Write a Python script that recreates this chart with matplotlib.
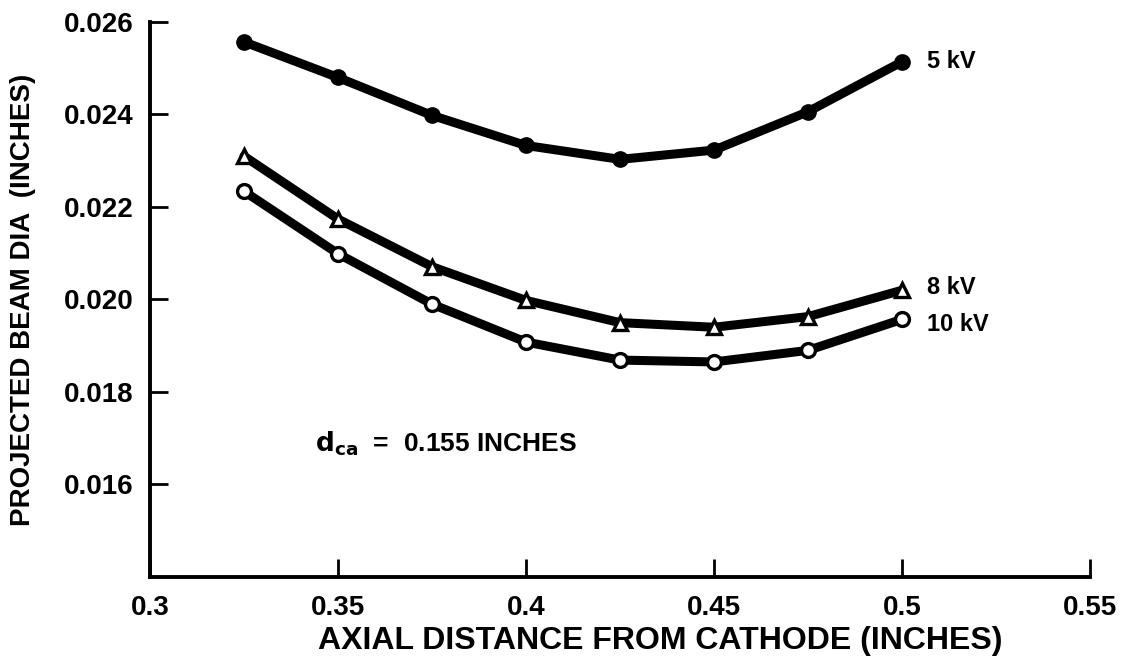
import matplotlib
matplotlib.use("Agg")
from matplotlib import pyplot as plt

plt.rcParams["font.family"] = ["Liberation Sans", "DejaVu Sans"]
plt.rcParams["font.weight"] = "bold"

# Axial distance from cathode (inches) at each measured point.
distance = [0.325, 0.35, 0.375, 0.4, 0.425, 0.45, 0.475, 0.5]

# Projected beam diameter (inches) for each accelerating voltage.
dia_5kv = [0.02557, 0.02480, 0.02398, 0.02333, 0.02303, 0.02323, 0.02406, 0.02514]
dia_8kv = [0.02310, 0.02174, 0.02071, 0.01998, 0.01950, 0.01940, 0.01963, 0.02020]
dia_10kv = [0.02234, 0.02099, 0.01990, 0.01908, 0.01869, 0.01865, 0.01890, 0.01957]

labels = ["5 kV", "8 kV", "10 kV"]
label_dy = [0, 2, -4]  # small vertical nudges in points

fig = plt.figure(figsize=(11.25, 6.65), dpi=100)
ax = fig.add_axes([150 / 1125, 1 - 577 / 665, (1090 - 150) / 1125, (577 - 22) / 665])

line_kw = dict(color="black", linewidth=6.5, solid_capstyle="round", solid_joinstyle="round")
ax.plot(distance, dia_5kv, marker="o", markersize=11, markerfacecolor="black",
        markeredgecolor="black", **line_kw)
ax.plot(distance, dia_8kv, marker="^", markersize=9.5, markerfacecolor="white",
        markeredgecolor="black", markeredgewidth=2.4, **line_kw)
ax.plot(distance, dia_10kv, marker="o", markersize=10, markerfacecolor="white",
        markeredgecolor="black", markeredgewidth=2.4, **line_kw)

# Curve labels next to the last point of each series.
for series, label, dy in zip([dia_5kv, dia_8kv, dia_10kv], labels, label_dy):
    ax.annotate(label, (distance[-1], series[-1]), xytext=(18, dy),
                textcoords="offset points", va="center", ha="left",
                fontsize=17, fontweight="bold")

ax.text(0.3439, 0.01688, r"$\mathbf{d_{ca}}$  =  0.155 INCHES", fontsize=19,
        fontweight="bold", va="center")

ax.set_xlim(0.3, 0.55)
ax.set_ylim(0.014, 0.026)
ax.set_xticks([0.3, 0.35, 0.4, 0.45, 0.5, 0.55])
ax.set_xticklabels(["0.3", "0.35", "0.4", "0.45", "0.5", "0.55"])
ax.set_yticks([0.016, 0.018, 0.020, 0.022, 0.024, 0.026])
ax.set_yticklabels(["0.016", "0.018", "0.020", "0.022", "0.024", "0.026"])

for side in ["top", "right"]:
    ax.spines[side].set_visible(False)
for side in ["left", "bottom"]:
    ax.spines[side].set_linewidth(2.8)
ax.tick_params(direction="in", length=13, width=2, labelsize=20)
ax.tick_params(axis="y", pad=12)
ax.tick_params(axis="x", pad=13)
for lbl in ax.get_xticklabels() + ax.get_yticklabels():
    lbl.set_fontweight("bold")

ax.set_xlabel("AXIAL DISTANCE FROM CATHODE (INCHES)", fontsize=23, fontweight="bold")
ax.set_ylabel("PROJECTED BEAM DIA  (INCHES)", fontsize=20, fontweight="bold")
ax.xaxis.set_label_coords((660 - 150) / 940, -(626 - 577) / 555)
ax.yaxis.set_label_coords(-(150 - 36) / 940, 0.5)

fig.savefig("out.png", dpi=100)
